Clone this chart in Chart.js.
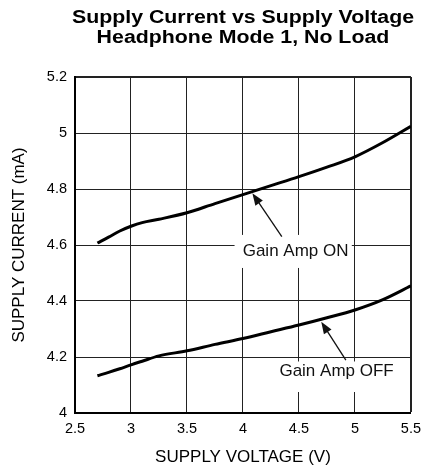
<!DOCTYPE html>
<html lang="en">
  <head>
    <meta charset="UTF-8" />
    <title>Supply Current vs Supply Voltage</title>
    <script src="https://cdn.jsdelivr.net/npm/chart.js@4.4.0/dist/chart.umd.min.js"></script>
    <style>
      body {
        margin: 0;
        background: #ffffff;
      }
      canvas {
        display: block;
      }
    </style>
  </head>
  <body>
    <canvas id="currentChart" width="428" height="470"></canvas>

    <script>
      const titleLines = ["Supply Current vs Supply Voltage", "Headphone Mode 1, No Load"];
      const supplyVoltage = [2.7, 2.8, 2.9, 3.0, 3.1, 3.25, 3.5, 3.75, 4.0, 4.25, 4.5, 4.75, 5.0, 5.25, 5.5];
      const currentGainOn = [4.607, 4.628, 4.65, 4.667, 4.68, 4.692, 4.715, 4.748, 4.78, 4.812, 4.844, 4.878, 4.915, 4.966, 5.024];
      const currentGainOff = [4.133, 4.145, 4.158, 4.172, 4.185, 4.204, 4.222, 4.245, 4.266, 4.29, 4.314, 4.34, 4.368, 4.405, 4.454];
      const xTicks = [2.5, 3, 3.5, 4, 4.5, 5, 5.5];
      const yTicks = [4, 4.2, 4.4, 4.6, 4.8, 5, 5.2];
      const noteLabels = ["Gain Amp ON", "Gain Amp OFF"];

      const FONT = '"Liberation Sans", Arial, Helvetica, sans-serif';

      // callouts, in data units: white box, text centre, arrow tail -> tip
      const notes = [
        { text: noteLabels[0], box: [3.925, 4.972, 4.636, 4.518], at: [4.47, 4.576], arrow: [4.347, 4.63, 4.084, 4.785] },
        { text: noteLabels[1], box: [4.286, 5.394, 4.184, 4.075], at: [4.836, 4.149], arrow: [4.919, 4.189, 4.699, 4.326] },
      ];

      const calloutPlugin = {
        id: "callouts",
        beforeDatasetsDraw(chart) {
          const { ctx } = chart;
          const { x, y } = chart.scales;
          ctx.save();
          notes.forEach((n) => {
            const bx1 = x.getPixelForValue(n.box[0]);
            const bx2 = x.getPixelForValue(n.box[1]);
            const by1 = y.getPixelForValue(n.box[2]);
            const by2 = y.getPixelForValue(n.box[3]);
            ctx.fillStyle = "#ffffff";
            ctx.fillRect(bx1, by1, bx2 - bx1, by2 - by1);

            ctx.fillStyle = "#111111";
            ctx.font = "17px " + FONT;
            ctx.textAlign = "center";
            ctx.textBaseline = "middle";
            ctx.fillText(n.text, x.getPixelForValue(n.at[0]), y.getPixelForValue(n.at[1]));

            const ax = x.getPixelForValue(n.arrow[0]);
            const ay = y.getPixelForValue(n.arrow[1]);
            const tx = x.getPixelForValue(n.arrow[2]);
            const ty = y.getPixelForValue(n.arrow[3]);
            const ang = Math.atan2(ty - ay, tx - ax);
            const c = Math.cos(ang);
            const s = Math.sin(ang);
            ctx.strokeStyle = "#111111";
            ctx.lineWidth = 1.3;
            ctx.beginPath();
            ctx.moveTo(ax, ay);
            ctx.lineTo(tx - 9 * c, ty - 9 * s);
            ctx.stroke();
            ctx.beginPath();
            ctx.moveTo(tx, ty);
            ctx.lineTo(tx - 12 * c + 4.5 * s, ty - 12 * s - 4.5 * c);
            ctx.lineTo(tx - 12 * c - 4.5 * s, ty - 12 * s + 4.5 * c);
            ctx.closePath();
            ctx.fill();
          });
          ctx.restore();
        },
        afterDraw(chart) {
          const { ctx, chartArea } = chart;
          const cx = (chartArea.left + chartArea.right) / 2;
          ctx.save();
          ctx.font = "bold 18px " + FONT;
          ctx.fillStyle = "#000000";
          ctx.textAlign = "center";
          ctx.textBaseline = "alphabetic";
          [23.2, 42.8].forEach((base, i) => {
            ctx.save();
            ctx.translate(cx, base);
            ctx.scale(1.185, 1);
            ctx.fillText(titleLines[i], 0, 0);
            ctx.restore();
          });
          ctx.restore();
        },
      };

      const ctx = document.getElementById("currentChart").getContext("2d");
      new Chart(ctx, {
        type: "line",
        data: {
          datasets: [
            {
              label: noteLabels[0],
              data: supplyVoltage.map((v, i) => ({ x: v, y: currentGainOn[i] })),
              borderColor: "#000000",
              borderWidth: 3,
              pointRadius: 0,
              cubicInterpolationMode: "monotone",
              fill: false,
            },
            {
              label: noteLabels[1],
              data: supplyVoltage.map((v, i) => ({ x: v, y: currentGainOff[i] })),
              borderColor: "#000000",
              borderWidth: 3,
              pointRadius: 0,
              cubicInterpolationMode: "monotone",
              fill: false,
            },
          ],
        },
        options: {
          responsive: false,
          animation: false,
          layout: {
            padding: { top: 77, right: 12, left: 0, bottom: 0 },
          },
          plugins: {
            legend: { display: false },
            tooltip: { enabled: false },
          },
          scales: {
            x: {
              type: "linear",
              min: 2.5,
              max: 5.5,
              afterBuildTicks: (s) => {
                s.ticks = xTicks.map((v) => ({ value: v }));
              },
              afterFit: (s) => {
                s.height = 57;
              },
              grid: {
                color: "#222222",
                lineWidth: (c) => (c.index === xTicks.length - 1 ? 2 : 1),
                drawTicks: false,
              },
              border: { color: "#000000", width: 2 },
              ticks: {
                color: "#000000",
                padding: 7,
                maxRotation: 0,
                font: { family: FONT, size: 14.5 },
                callback: (v) => String(v),
              },
              title: {
                display: true,
                text: "SUPPLY VOLTAGE (V)",
                color: "#000000",
                font: { family: FONT, size: 17 },
                padding: { top: 0, bottom: 2 },
              },
            },
            y: {
              type: "linear",
              min: 4,
              max: 5.2,
              afterBuildTicks: (s) => {
                s.ticks = yTicks.map((v) => ({ value: v }));
              },
              afterFit: (s) => {
                s.width = 75;
              },
              grid: {
                color: "#222222",
                lineWidth: (c) => (c.index === yTicks.length - 1 ? 2 : 1),
                drawTicks: false,
              },
              border: { color: "#000000", width: 2 },
              ticks: {
                color: "#000000",
                padding: 8,
                font: { family: FONT, size: 14.5 },
                callback: (v) => String(v),
              },
              title: {
                display: true,
                text: "SUPPLY CURRENT (mA)",
                color: "#000000",
                font: { family: FONT, size: 17 },
                padding: { top: 9, bottom: 0 },
              },
            },
          },
        },
        plugins: [calloutPlugin],
      });
    </script>
  </body>
</html>
